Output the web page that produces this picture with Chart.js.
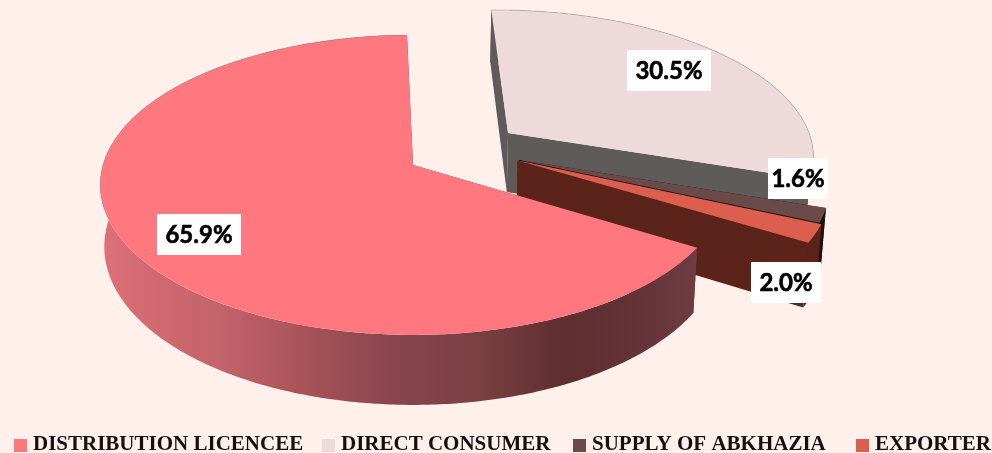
<!DOCTYPE html>
<html>
<head>
<meta charset="utf-8">
<style>
  html, body { margin: 0; padding: 0; background: #fff0eb; overflow: hidden; }
  #wrap { width: 992px; height: 453px; }
</style>
<script src="https://cdn.jsdelivr.net/npm/chart.js@4"></script>
</head>
<body>
<div id="wrap"><canvas id="pie-Chart" width="992" height="453"></canvas></div>
<script>
const categories = ["DISTRIBUTION LICENCEE", "DIRECT CONSUMER", "SUPPLY OF ABKHAZIA", "EXPORTER"];
const shares = [65.9, 30.5, 1.6, 2.0];
const topColors = ["#ff7880", "#eedada", "#6b4a4a", "#dc5e4e"];

// look of the tilted pie: Chart.js only does flat ones, so the arcs get projected
const view = { cx: 413, cy: 165, rx: 310, ry: 147.3, tilt: 0.133, depth: 60.7, taper: 0.987 };
const explode = [[0, 0], [0.3156, -0.2237], [0.3435, -0.0342], [0.339, -0.03]];
const shrink = [1, 1, 0.99, 1];
const cutColors = ["#7a3f41", "#5f5b5a", "#1c1210", "#5c231a"];
const wallColors = [null, "#5f5b5a", "#1c1210", "#5c231a"];
const pinkWall = [[0, "#dd7078"], [0.1, "#d0686f"], [0.2, "#c2636a"], [0.34, "#a85358"], [0.5, "#87454d"], [0.64, "#7a3f41"], [0.78, "#5f2e30"], [0.92, "#65343a"], [1, "#6f3c42"]];
const paintOrder = [1, 2, 3, 0];

const labelBoxes = [[157, 214, 84, 41], [627, 50, 84, 41], [768, 158, 60, 41], [751, 262, 70, 41]];
const legendX = [14, 322, 573, 856];

function project(u, v, down) {
  const w = 1 - view.tilt * v;
  const t = 1 - (1 - view.taper) * down;
  return [view.cx + view.rx * u / w * t, view.cy + view.ry * v / w + down * view.depth / w];
}

function polygon(ctx, pts, fill) {
  ctx.beginPath();
  pts.forEach((p, i) => (i ? ctx.lineTo(p[0], p[1]) : ctx.moveTo(p[0], p[1])));
  ctx.closePath();
  ctx.fillStyle = fill;
  ctx.fill();
}

function drawSlice(ctx, arc, i) {
  const [sx, sy] = explode[i];
  const r = shrink[i];
  const steps = Math.max(4, Math.round((arc.endAngle - arc.startAngle) * 90));
  const rim = [];
  for (let s = 0; s <= steps; s++) {
    const a = arc.startAngle + (arc.endAngle - arc.startAngle) * s / steps;
    rim.push([sx + Math.cos(a) * r, sy + Math.sin(a) * r]);
  }
  const top = rim.map(p => project(p[0], p[1], 0));
  const bottom = rim.map(p => project(p[0], p[1], 1));
  const apexTop = project(sx, sy, 0);
  const apexBottom = project(sx, sy, 1);

  // cut faces
  polygon(ctx, [apexTop, top[0], bottom[0], apexBottom], cutColors[i]);
  polygon(ctx, [apexTop, top[steps], bottom[steps], apexBottom], cutColors[i]);

  // outer wall
  let wall = wallColors[i];
  if (!wall) {
    wall = ctx.createLinearGradient(view.cx - view.rx, 0, view.cx + 282, 0);
    pinkWall.forEach(s => wall.addColorStop(s[0], s[1]));
  }
  polygon(ctx, top.concat(bottom.slice().reverse()), wall);

  // top face, thin grey rim only on the far side
  polygon(ctx, [apexTop].concat(top), topColors[i]);
  if (i < 2) {
    ctx.beginPath();
    let pen = false;
    top.forEach((p, k) => {
      if (rim[k][1] - sy > 0.3) { pen = false; return; }
      if (pen) ctx.lineTo(p[0], p[1]);
      else ctx.moveTo(p[0], p[1]);
      pen = true;
    });
    ctx.strokeStyle = "rgba(130,130,130,0.35)";
    ctx.lineWidth = 1;
    ctx.stroke();
  }
}

const pie3d = {
  id: "pie3d",
  beforeDatasetsDraw(chart) {
    const arcs = chart.getDatasetMeta(0).data;
    paintOrder.forEach(i => drawSlice(chart.ctx, arcs[i], i));
    return false; // flat arcs are not wanted
  },
  afterDraw(chart) {
    const ctx = chart.ctx;
    ctx.save();
    ctx.textBaseline = "middle";

    // value labels
    ctx.font = "bold 24px Lato";
    ctx.textAlign = "center";
    ctx.lineWidth = 0.6;
    shares.forEach((v, i) => {
      const b = labelBoxes[i];
      const txt = v.toFixed(1) + "%";
      ctx.fillStyle = "#ffffff";
      ctx.fillRect(b[0], b[1], b[2], b[3]);
      ctx.fillStyle = "#000000";
      ctx.strokeStyle = "#000000";
      ctx.fillText(txt, b[0] + b[2] / 2, b[1] + b[3] / 2 + 1);
      ctx.strokeText(txt, b[0] + b[2] / 2, b[1] + b[3] / 2 + 1);
    });

    // legend row
    ctx.font = "bold 21px 'Liberation Serif'";
    ctx.textAlign = "left";
    categories.forEach((c, i) => {
      ctx.fillStyle = topColors[i];
      ctx.fillRect(legendX[i], 439, 13, 13);
      ctx.fillStyle = "#111111";
      ctx.fillText(c, legendX[i] + 19, 445);
    });
    ctx.restore();
  },
};

new Chart(document.getElementById("pie-Chart"), {
  type: "pie",
  data: {
    labels: categories,
    datasets: [{ data: shares, backgroundColor: topColors, borderWidth: 0 }],
  },
  options: {
    responsive: false,
    animation: false,
    rotation: 121.5,
    plugins: { legend: { display: false }, tooltip: { enabled: false } },
  },
  plugins: [pie3d],
});
</script>
</body>
</html>
